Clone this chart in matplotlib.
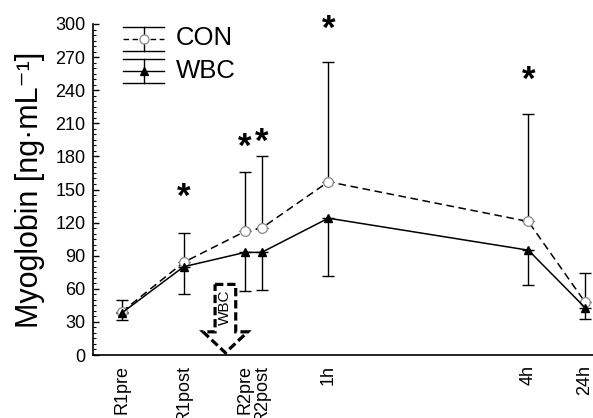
import matplotlib
matplotlib.use("Agg")
import matplotlib.pyplot as plt
from matplotlib.lines import Line2D
from matplotlib.patches import Polygon
import numpy as np

plt.rcParams['font.family'] = ['Liberation Sans', 'DejaVu Sans']

# ---- data ----
timepoints = ["R1pre", "R1post", "R2pre", "R2post", "1h", "4h", "24h"]
x_pos = [0.0, 0.93, 1.85, 2.10, 3.10, 6.10, 6.95]
con_mean = [39, 84, 112, 115, 157, 121, 48]
con_err_up = [11, 27, 54, 65, 109, 97, 26]
wbc_mean = [38, 80, 93, 93, 124, 95, 43]
wbc_err_down = [6, 25, 35, 34, 52, 32, 10]
sig_x = [0.93, 1.85, 2.10, 3.10, 6.10]
sig_y = [143, 188, 193, 295, 249]
y_ticks = list(range(0, 301, 30))

W, H = 593, 418
fig = plt.figure(figsize=(W / 100, H / 100), dpi=100)
ax = fig.add_axes([93 / W, 1 - 355 / H, 1 - 93 / W, (355 - 24) / H])

# CON (dashed, open circles, upward error)
ax.errorbar(x_pos, con_mean, yerr=[np.zeros(len(con_mean)), con_err_up],
            fmt='none', ecolor='black', elinewidth=1.0, capsize=4, capthick=1.0, zorder=2)
ax.plot(x_pos, con_mean, linestyle=(0, (5, 3)), color='black', linewidth=1.1, zorder=3)
ax.plot(x_pos, con_mean, linestyle='none', marker='o', markersize=7,
        markerfacecolor='white', markeredgecolor='#888888', markeredgewidth=0.9, zorder=4)

# WBC (solid, filled triangles, downward error)
ax.errorbar(x_pos, wbc_mean, yerr=[wbc_err_down, np.zeros(len(wbc_mean))],
            fmt='none', ecolor='black', elinewidth=1.0, capsize=4, capthick=1.0, zorder=2)
ax.plot(x_pos, wbc_mean, linestyle='-', color='black', linewidth=1.1,
        marker='^', markersize=6, markerfacecolor='black', markeredgecolor='black', zorder=5)

# significance asterisks
for sx, sy in zip(sig_x, sig_y):
    ax.text(sx, sy, '*', ha='center', va='center', fontsize=25, fontweight='bold')

# WBC arrow annotation
cx = 1.556
bw, hw = 0.155, 0.335
top, neck, tip = 64, 21, 2
arrow = Polygon([[cx - bw, top], [cx + bw, top], [cx + bw, neck], [cx + hw, neck],
                 [cx, tip], [cx - hw, neck], [cx - bw, neck]], closed=True,
                fill=False, edgecolor='black', linewidth=2.3, linestyle=(0, (2.6, 1.2)),
                clip_on=False, zorder=6)
ax.add_patch(arrow)
ax.text(cx, 43, 'WBC', rotation=90, ha='center', va='center', fontsize=11)

ax.set_xlim(-0.43, 7.07)
ax.set_ylim(0, 300)
ax.set_yticks(y_ticks)
ax.set_yticks(np.arange(0, 301, 5), minor=True)
ax.set_xticks(x_pos)
ax.set_xticklabels(timepoints, rotation=90, fontsize=13)
ax.tick_params(axis='x', length=0, pad=7)
ax.tick_params(axis='y', which='major', direction='in', length=4, width=1, labelsize=13, pad=5.5)
ax.tick_params(axis='y', which='minor', direction='in', length=2.5, width=0.8)
for s in ['top', 'right']:
    ax.spines[s].set_visible(False)
for s in ['left', 'bottom']:
    ax.spines[s].set_linewidth(1.2)

ax.set_ylabel('Myoglobin [ng·mL⁻¹]', fontsize=22, labelpad=7,
              family=['Liberation Sans', 'DejaVu Sans'])

# manual legend (pixel positions)
def P(px, py):
    return (px / W, 1 - py / H)

def legend_entry(yc, ls, marker, mfc, mec, label, ty):
    x0, x1, xm = 123, 164, 143.5
    for yy in (yc - 12, yc + 12):
        a, b = P(x0, yy), P(x1, yy)
        fig.add_artist(Line2D([a[0], b[0]], [a[1], b[1]], color='black', lw=1.0))
    a, b = P(xm, yc - 12), P(xm, yc + 12)
    fig.add_artist(Line2D([a[0], b[0]], [a[1], b[1]], color='black', lw=1.0))
    a, b = P(x0, yc), P(x1, yc)
    fig.add_artist(Line2D([a[0], b[0]], [a[1], b[1]], color='black', lw=1.0, linestyle=ls))
    m = P(xm, yc)
    fig.add_artist(Line2D([m[0]], [m[1]], linestyle='none', marker=marker,
                          markersize=6.5 if marker == 'o' else 5.5,
                          markerfacecolor=mfc, markeredgecolor=mec, markeredgewidth=0.9))
    t = P(176, ty)
    fig.text(t[0], t[1], label, fontsize=18.5, ha='left', va='center')

legend_entry(38.5, (0, (4, 2.5)), 'o', 'white', '#888888', 'CON', 38)
legend_entry(70.5, '-', '^', 'black', 'black', 'WBC', 71)

fig.savefig('out.png', dpi=100)
